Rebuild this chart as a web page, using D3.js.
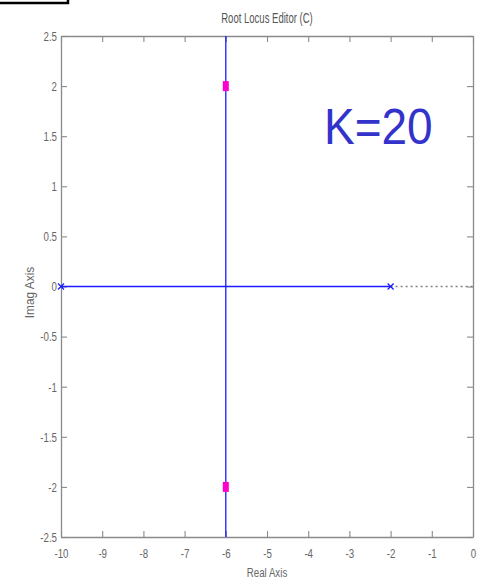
<!DOCTYPE html>
<html>
<head>
<meta charset="utf-8">
<script src="https://cdn.jsdelivr.net/npm/d3@7/dist/d3.min.js"></script>
<style>
  html, body { margin: 0; padding: 0; background: #fff; }
  svg { display: block; }
</style>
</head>
<body>
<script>
// Root locus: open-loop poles, locus branches and closed-loop poles at K=20
const xTicks = [-10, -9, -8, -7, -6, -5, -4, -3, -2, -1, 0];
const yTicks = [2.5, 2, 1.5, 1, 0.5, 0, -0.5, -1, -1.5, -2, -2.5];
const xDomain = [-10, 0];
const yDomain = [-2.5, 2.5];
const openLoopPoles = [[-10, 0], [-2, 0]];
const realBranch = [[-10, 0], [-2, 0]];
const breakawayBranch = [[-6, 2.5], [-6, -2.5]];
const asymptoteSegment = [[-2, 0], [0, 0]];
const closedLoopPoles = [[-6, 2], [-6, -2]];
const gainLabel = "K=20";
const title = "Root Locus Editor (C)";
const xLabel = "Real Axis";
const yLabel = "Imag Axis";

const W = 481, H = 579;
const m = { left: 61, right: 8, top: 36, bottom: 42 };
const FONT = "Liberation Sans, Arial, sans-serif";
const NARROW = 0.72;   // horizontal squeeze giving a condensed face

const svg = d3.select("body").append("svg").attr("width", W).attr("height", H)
  .attr("font-family", FONT);

const x = d3.scaleLinear().domain(xDomain).range([m.left, W - m.right]);
const y = d3.scaleLinear().domain(yDomain).range([H - m.bottom, m.top]);

const axisColor = "#8a8a8a";
const textColor = "#666";
const tickFmt = d => String(d);   // plain hyphen-minus labels

function styleAxis(g) {
  g.selectAll("path.domain").attr("stroke", axisColor).attr("stroke-width", 1.3);
  g.selectAll(".tick line").attr("stroke", axisColor).attr("stroke-width", 1.1);
  g.selectAll(".tick text").attr("fill", textColor).attr("font-size", 13.5);
}

// bottom axis with labels
svg.append("g")
  .attr("transform", `translate(0,${y(yDomain[0])})`)
  .call(d3.axisBottom(x).tickValues(xTicks).tickFormat(tickFmt).tickSizeInner(-6).tickSizeOuter(0).tickPadding(11))
  .call(styleAxis)
  .call(g => g.selectAll(".tick text").attr("transform", `scale(${NARROW},1)`));

// top frame
svg.append("g")
  .attr("transform", `translate(0,${y(yDomain[1])})`)
  .call(d3.axisTop(x).tickValues(xTicks).tickFormat("").tickSizeInner(-6).tickSizeOuter(0))
  .call(styleAxis);

// left axis with labels
svg.append("g")
  .attr("transform", `translate(${x(xDomain[0])},0)`)
  .call(d3.axisLeft(y).tickValues(yTicks).tickFormat(tickFmt).tickSizeInner(-6).tickSizeOuter(0))
  .call(styleAxis)
  .call(g => g.selectAll(".tick text")
    .attr("x", -4 / NARROW)
    .attr("transform", `scale(${NARROW},1)`));

// right frame
svg.append("g")
  .attr("transform", `translate(${x(xDomain[1])},0)`)
  .call(d3.axisRight(y).tickValues(yTicks).tickFormat("").tickSizeInner(-6).tickSizeOuter(0))
  .call(styleAxis);

const cx0 = (x(xDomain[0]) + x(xDomain[1])) / 2;

// Titles
svg.append("text")
  .attr("transform", `translate(${cx0},23) scale(0.68,1)`)
  .attr("text-anchor", "middle").attr("font-size", 14).attr("fill", "#555")
  .text(title);

svg.append("text")
  .attr("transform", `translate(${cx0},577) scale(${NARROW},1)`)
  .attr("text-anchor", "middle").attr("font-size", 13.5).attr("fill", textColor)
  .text(xLabel);

svg.append("text")
  .attr("transform", `translate(34,${(y(yDomain[0]) + y(yDomain[1])) / 2 + 6}) rotate(-90) scale(0.95,1)`)
  .attr("text-anchor", "middle").attr("font-size", 12.5).attr("fill", textColor)
  .text(yLabel);

const line = d3.line().x(d => x(d[0])).y(d => y(d[1]));
const blue = "#1a1aff";

// dotted segment toward the origin
svg.append("path").attr("d", line(asymptoteSegment))
  .attr("fill", "none").attr("stroke", "#808080").attr("stroke-width", 1.5)
  .attr("stroke-dasharray", "2,3");

// locus branches
[realBranch, breakawayBranch].forEach(seg => {
  svg.append("path").attr("d", line(seg))
    .attr("fill", "none").attr("stroke", blue).attr("stroke-width", 1.3);
});

// open-loop poles (x markers)
const s = 3;
openLoopPoles.forEach(p => {
  const px = x(p[0]), py = y(p[1]);
  svg.append("path")
    .attr("d", `M${px - s},${py - s}L${px + s},${py + s}M${px - s},${py + s}L${px + s},${py - s}`)
    .attr("stroke", blue).attr("stroke-width", 1.2).attr("fill", "none");
});

// closed-loop poles at current gain
svg.selectAll("rect.clp").data(closedLoopPoles).enter().append("rect")
  .attr("class", "clp")
  .attr("x", d => x(d[0]) - 3).attr("y", d => y(d[1]) - 5)
  .attr("width", 6).attr("height", 10)
  .attr("fill", "#ff00cc");

// gain annotation
svg.append("text")
  .attr("transform", `translate(324,144) scale(1,1.08)`)
  .attr("font-size", 46).attr("fill", "#3333cc")
  .text(gainLabel);

// clipped black box in the top-left corner
svg.append("rect")
  .attr("x", -3).attr("y", -10).attr("width", 71).attr("height", 13)
  .attr("fill", "#fff").attr("stroke", "#000").attr("stroke-width", 2.5);
</script>
</body>
</html>
